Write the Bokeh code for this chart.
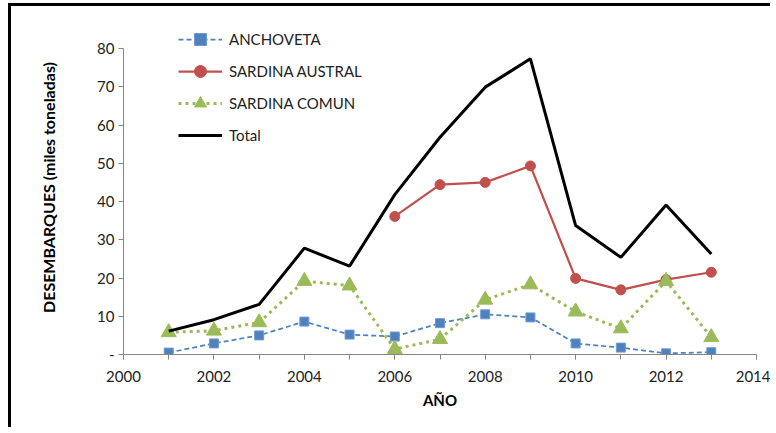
from bokeh.plotting import figure
from bokeh.models import Range1d, FixedTicker, Legend, LegendItem
from bokeh.embed import file_html
from bokeh.resources import INLINE

years = [2001, 2002, 2003, 2004, 2005, 2006, 2007, 2008, 2009, 2010, 2011, 2012, 2013]
anchoveta = [0.5, 2.9, 5.0, 8.6, 5.2, 4.7, 8.2, 10.5, 9.7, 2.9, 1.8, 0.3, 0.6]
austral_years = [2006, 2007, 2008, 2009, 2010, 2011, 2012, 2013]
sardina_austral = [36.1, 44.4, 45.0, 49.3, 19.9, 16.9, 19.6, 21.5]
sardina_comun = [5.8, 6.2, 8.4, 19.2, 18.0, 1.4, 4.0, 14.3, 18.3, 11.2, 6.8, 19.2, 4.5]
total = [6.1, 9.1, 13.1, 27.8, 23.1, 41.8, 56.8, 69.9, 77.3, 33.7, 25.4, 39.1, 26.3]

x_ticks = [2000, 2002, 2004, 2006, 2008, 2010, 2012, 2014]
x_minor = list(range(2000, 2015))
y_ticks = [0, 10, 20, 30, 40, 50, 60, 70, 80]
y_overrides = {0: "-"}

FONT = "Lato"
AXIS_GRAY = "#868686"

# frame extends above the 80 mark (axis bounded at 80) so the legend fits inside
Y_TOP = 80 + 28 / 3.825

p = figure(width=762, height=424, output_backend="svg", toolbar_location=None,
           x_range=Range1d(2000, 2014), y_range=Range1d(0, Y_TOP),
           min_border_left=112, min_border_right=17, min_border_top=14, min_border_bottom=76)
p.styles = {"border-left": "3px solid black", "border-top": "3px solid black",
            "margin-left": "8px", "margin-top": "3px"}
p.outline_line_color = None
p.grid.grid_line_color = None
p.background_fill_color = "white"
p.border_fill_color = "white"

# x axis
p.xaxis.ticker = FixedTicker(ticks=x_ticks, minor_ticks=x_minor)
p.xaxis.axis_line_color = AXIS_GRAY
p.xaxis.major_tick_line_color = AXIS_GRAY
p.xaxis.minor_tick_line_color = AXIS_GRAY
p.xaxis.major_tick_in = 0
p.xaxis.major_tick_out = 5
p.xaxis.minor_tick_in = 0
p.xaxis.minor_tick_out = 5
p.xaxis.major_label_text_font = FONT
p.xaxis.major_label_text_font_size = "15px"
p.xaxis.major_label_text_color = "#222222"
p.xaxis.major_label_standoff = 11
p.xaxis.axis_label = "AÑO"
p.xaxis.axis_label_text_font = FONT
p.xaxis.axis_label_text_font_style = "bold"
p.xaxis.axis_label_text_font_size = "15px"
p.xaxis.axis_label_text_color = "black"
p.xaxis.axis_label_standoff = 6

# y axis
p.yaxis.ticker = FixedTicker(ticks=y_ticks, minor_ticks=[])
p.yaxis.bounds = (0, 80)
p.yaxis.major_label_overrides = y_overrides
p.yaxis.axis_line_color = AXIS_GRAY
p.yaxis.major_tick_line_color = AXIS_GRAY
p.yaxis.major_tick_in = 0
p.yaxis.major_tick_out = 5
p.yaxis.minor_tick_line_color = None
p.yaxis.major_label_text_font = FONT
p.yaxis.major_label_text_font_size = "15px"
p.yaxis.major_label_text_color = "#222222"
p.yaxis.major_label_standoff = 4
p.yaxis.axis_label = "DESEMBARQUES (miles toneladas)"
p.yaxis.axis_label_text_font = FONT
p.yaxis.axis_label_text_font_style = "bold"
p.yaxis.axis_label_text_font_size = "16px"
p.yaxis.axis_label_text_color = "black"
p.yaxis.axis_label_standoff = 36

BLUE = "#4F81BD"
RED = "#C0504D"
GREEN = "#9BBB59"

l1 = p.line(years, anchoveta, line_color=BLUE, line_width=1.75, line_dash="5 3")
m1 = p.scatter(years, anchoveta, marker="square", size=9, fill_color=BLUE, line_color="#6f9bd0", line_width=1)
l2 = p.line(austral_years, sardina_austral, line_color=RED, line_width=2.25)
m2 = p.scatter(austral_years, sardina_austral, marker="circle", size=10, fill_color=RED, line_color=RED)
l3 = p.line(years, sardina_comun, line_color=GREEN, line_width=3, line_dash="3 4")
m3 = p.scatter(years, sardina_comun, marker="triangle", size=15, fill_color=GREEN, line_color=GREEN)
l4 = p.line(years, total, line_color="black", line_width=3)

legend = Legend(items=[
    LegendItem(label="ANCHOVETA", renderers=[l1, m1]),
    LegendItem(label="SARDINA AUSTRAL", renderers=[l2, m2]),
    LegendItem(label="SARDINA COMUN", renderers=[l3, m3]),
    LegendItem(label="Total", renderers=[l4]),
], location=(55, 204))
legend.border_line_color = None
legend.background_fill_alpha = 0
legend.padding = 0
legend.margin = 0
legend.spacing = 2
legend.glyph_width = 44
legend.glyph_height = 30
legend.label_height = 30
legend.label_standoff = 7
legend.label_text_font = FONT
legend.label_text_font_size = "15px"
legend.label_text_color = "#222222"
p.add_layout(legend, "center")

open("out.html", "w").write(file_html(p, INLINE))
